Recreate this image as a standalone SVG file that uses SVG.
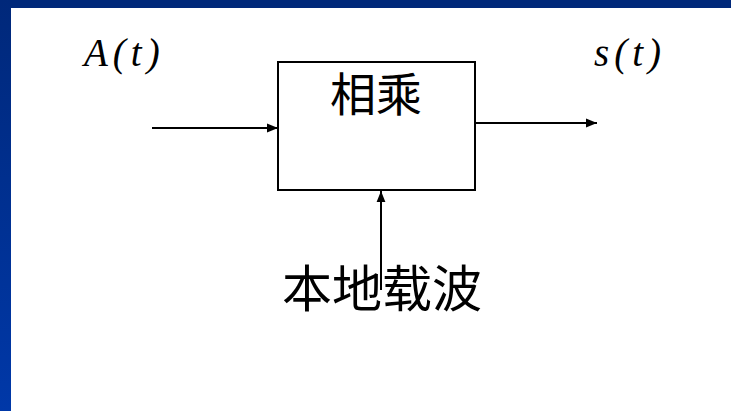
<svg xmlns="http://www.w3.org/2000/svg" width="731" height="411" viewBox="0 0 731 411">
<defs>
<linearGradient id="lb" x1="0" y1="0" x2="0" y2="1">
<stop offset="0" stop-color="#00287a"/><stop offset="1" stop-color="#0038a8"/>
</linearGradient>
<marker id="ah" viewBox="0 0 10 10" refX="10" refY="5" markerWidth="16" markerHeight="11" markerUnits="userSpaceOnUse" orient="auto">
<path d="M0,1 L10,5 L0,9 z" fill="#000"/>
</marker>
<style>
.ln{stroke:#000;stroke-width:2;fill:none}
.cjk{font-family:"Noto Sans CJK SC","Noto Sans",sans-serif;fill:#000}
.math{font-family:"Liberation Serif",serif;font-style:italic;fill:#000;letter-spacing:5px}
</style>
</defs>
<rect x="0" y="0" width="731" height="411" fill="#fff"/>
<rect x="0" y="0" width="731" height="8" fill="#00287a"/>
<rect x="0" y="0" width="11" height="411" fill="url(#lb)"/>
<g id="input-label"><text class="math" x="84" y="66" font-size="39">A(t)</text></g>
<g id="output-label"><text class="math" x="594" y="66" font-size="39">s(t)</text></g>
<g id="multiplier">
<rect class="ln" x="278" y="62" width="197" height="128"/>
<text class="cjk" x="376" y="111" font-size="46" text-anchor="middle">相乘</text>
</g>
<g id="carrier"><text class="cjk" x="382" y="307" font-size="50" text-anchor="middle">本地载波</text></g>
<g id="connectors">
<line class="ln" x1="152" y1="128" x2="278" y2="128" marker-end="url(#ah)"/>
<line class="ln" x1="475" y1="123" x2="597" y2="123" marker-end="url(#ah)"/>
<line class="ln" x1="381" y1="290" x2="381" y2="191" marker-end="url(#ah)"/>
</g>
</svg>
